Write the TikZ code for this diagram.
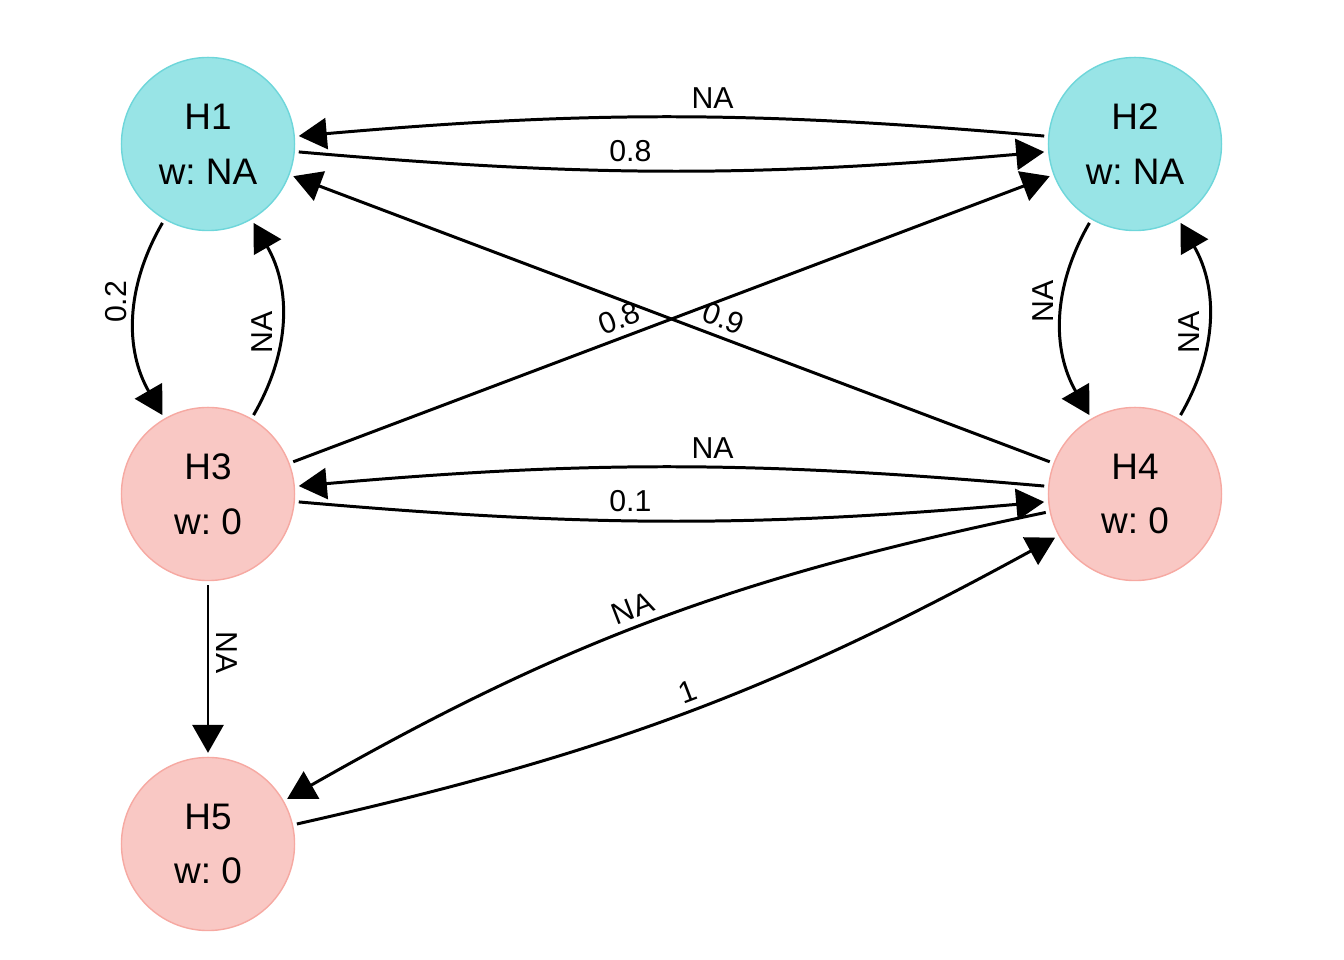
\documentclass[tikz,border=0pt]{standalone}
\usepackage{fontspec}
\setmainfont{Liberation Sans}
\usetikzlibrary{arrows.meta}

\definecolor{hcyan}{HTML}{98E4E6}
\definecolor{hcyanline}{HTML}{6ED6DA}
\definecolor{hpink}{HTML}{F9C8C4}
\definecolor{hpinkline}{HTML}{F6A9A2}

\begin{document}
\frenchspacing
\begin{tikzpicture}[x=0.01cm, y=0.01cm,
    >={Triangle[length=0.28cm, width=0.31cm]},
    hnode/.style={circle, minimum size=1.73cm, inner sep=0pt, outer sep=1.3pt,
      line width=0.4pt, align=center, font=\fontsize{10.5}{15.6}\selectfont},
    topnode/.style={hnode, fill=hcyan, draw=hcyanline},
    subnode/.style={hnode, fill=hpink, draw=hpinkline},
    conn/.style={->, line width=0.85pt},
    lab/.style={font=\fontsize{8.6}{10}\selectfont, inner sep=2pt}]
    \useasboundingbox (0,0) rectangle (1344,960);

    % hypotheses
    \node[topnode] (h1) at (208,816) {H1\\w: NA};
    \node[topnode] (h2) at (1135,816) {H2\\w: NA};
    \node[subnode] (h3) at (208,466) {H3\\w: 0};
    \node[subnode] (h4) at (1135,466) {H4\\w: 0};
    \node[subnode] (h5) at (208,116) {H5\\w: 0};

    % top pair
    \draw[conn] (h1) to[bend right=5] node[lab, pos=0.44, above] {0.8} (h2);
    \draw[conn] (h2) to[bend right=5] node[lab, pos=0.44, above] {NA} (h1);

    % left and right columns
    \draw[conn] (h1) to[bend right=30] node[lab, pos=0.41, rotate=90, anchor=south] {0.2} (h3);
    \draw[conn] (h3) to[bend right=30] node[lab, pos=0.43, rotate=90, anchor=south] {NA} (h1);
    \draw[conn] (h2) to[bend right=30] node[lab, pos=0.41, rotate=90, anchor=south] {NA} (h4);
    \draw[conn] (h4) to[bend right=30] node[lab, pos=0.43, rotate=90, anchor=south] {NA} (h2);

    % diagonals
    \draw[conn] (h3) -- (h2) node[lab, pos=0.44, sloped, above] {0.8};
    \draw[conn] (h4) -- (h1) node[lab, pos=0.44, sloped, above] {0.9};

    % middle pair
    \draw[conn] (h3) to[bend right=5] node[lab, pos=0.44, above] {0.1} (h4);
    \draw[conn] (h4) to[bend right=5] node[lab, pos=0.44, above] {NA} (h3);

    % down to H5
    \draw[conn] (h3) -- (h5) node[lab, pos=0.4, rotate=-90, anchor=south] {NA};
    \draw[conn] (h4) to[bend right=9] node[lab, pos=0.52, sloped, above] {NA} (h5);
    \draw[conn] (h5) to[bend right=8] node[lab, pos=0.51, sloped, above] {1} (h4);
\end{tikzpicture}
\end{document}
